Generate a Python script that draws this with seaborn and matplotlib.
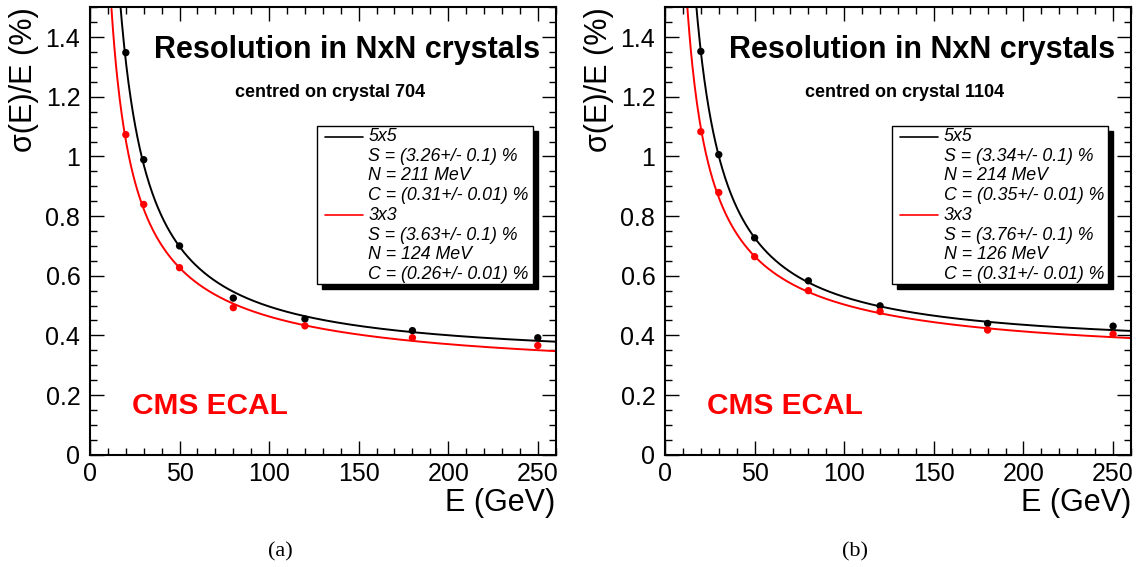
import numpy as np
import pandas as pd
import matplotlib
matplotlib.use("Agg")
import matplotlib.pyplot as plt
import seaborn as sns
from matplotlib.patches import Rectangle
from matplotlib.lines import Line2D
from matplotlib.ticker import MultipleLocator, FormatStrFormatter

# ---------------- data ----------------
energies = [20, 30, 50, 80, 120, 180, 250]          # GeV
sizes = ["5x5", "3x3"]

res_5x5_a = [1.348, 0.989, 0.700, 0.525, 0.455, 0.416, 0.392]
res_3x3_a = [1.073, 0.839, 0.627, 0.493, 0.432, 0.392, 0.366]
res_5x5_b = [1.352, 1.006, 0.727, 0.583, 0.499, 0.440, 0.431]
res_3x3_b = [1.083, 0.879, 0.664, 0.550, 0.480, 0.418, 0.404]

# fit parameters (stochastic %, noise MeV, constant %)
S_a = [3.26, 3.63]
N_a = [211, 124]
C_a = [0.31, 0.26]
S_b = [3.34, 3.76]
N_b = [214, 126]
C_b = [0.35, 0.31]
S_err = ["0.1", "0.1"]
C_err = ["0.01", "0.01"]
fit_range = [12, 260]

crystals = ["704", "1104"]
captions = ["(a)", "(b)"]

# ---------------- style ----------------
sns.set_style("ticks")
plt.rcParams["font.family"] = ["Liberation Sans", "DejaVu Sans"]
plt.rcParams["axes.linewidth"] = 1.5
for key in ["text.color", "axes.labelcolor", "xtick.color", "ytick.color",
            "axes.edgecolor", "xtick.labelcolor", "ytick.labelcolor"]:
    plt.rcParams[key] = "black"

palette = {"5x5": "black", "3x3": "red"}

fig = plt.figure(figsize=(11.42, 5.67), dpi=100)
W, H = 1142, 567
ax_a = fig.add_axes([90 / W, 1 - 454.7 / H, 465.7 / W, 447.4 / H])
ax_b = fig.add_axes([665 / W, 1 - 454.7 / H, 466 / W, 447.4 / H])


def fit_curve(E, S, N, C):
    return np.sqrt((S / np.sqrt(E)) ** 2 + (N / 10.0 / E) ** 2 + C ** 2)


def draw(ax, r5, r3, S, N, C, crystal, caption, cap_x):
    pts = pd.DataFrame({
        "E": energies * 2,
        "res": r5 + r3,
        "size": ["5x5"] * len(energies) + ["3x3"] * len(energies),
    })
    Egrid = np.linspace(fit_range[0], fit_range[1], 600)
    rows = []
    for i, sz in enumerate(sizes):
        rows.append(pd.DataFrame({"E": Egrid,
                                  "res": fit_curve(Egrid, S[i], N[i], C[i]),
                                  "size": sz}))
    fit = pd.concat(rows, ignore_index=True)

    sns.lineplot(data=fit, x="E", y="res", hue="size", palette=palette,
                 estimator=None, sort=True, legend=False, lw=1.4, ax=ax, zorder=2)
    sns.scatterplot(data=pts, x="E", y="res", hue="size", palette=palette,
                    s=28, edgecolor="none", legend=False, ax=ax, zorder=3)

    ax.set_xlim(0, 260)
    ax.set_ylim(0, 1.5)
    ax.xaxis.set_major_locator(MultipleLocator(50))
    ax.xaxis.set_minor_locator(MultipleLocator(10))
    ax.yaxis.set_major_locator(MultipleLocator(0.2))
    ax.yaxis.set_minor_locator(MultipleLocator(0.05))
    ax.yaxis.set_major_formatter(FormatStrFormatter("%g"))
    ax.tick_params(which="both", direction="in", top=True, right=True,
                   width=1.0, labelsize=18, color="black", labelcolor="black")
    ax.tick_params(which="major", length=10)
    ax.tick_params(which="minor", length=5)
    ax.tick_params(axis="x", pad=5)
    ax.tick_params(axis="y", pad=7)
    for sp in ax.spines.values():
        sp.set_visible(True)
        sp.set_linewidth(1.5)
        sp.set_color("black")

    ax.set_xlabel("E (GeV)", fontsize=22, loc="right", color="black")
    ax.xaxis.set_label_coords(1.0, -0.108)
    ax.xaxis.label.set_va("center")
    ax.set_ylabel("σ(E)/E (%)", fontsize=22, loc="top", color="black")
    ax.yaxis.set_label_coords(-0.1417, 1.0)
    ax.yaxis.label.set_va("center")

    ax.text(1 - 16 / 466, 0.905, "Resolution in NxN crystals", transform=ax.transAxes,
            ha="right", va="center", fontsize=22, fontweight="bold", color="black")
    ax.text(0.515, 0.81, "centred on crystal " + crystal, transform=ax.transAxes,
            ha="center", va="center", fontsize=13, fontweight="bold", color="black")
    ax.text(0.09, 0.109, "CMS ECAL", transform=ax.transAxes, ha="left", va="center",
            fontsize=21.5, fontweight="bold", color="red")

    # legend box with ROOT-style black shadow
    x0, x1, y0, y1 = 0.488, 0.951, 0.381, 0.735
    dx, dy = 5 / 466, 5 / 447
    ax.add_patch(Rectangle((x0 + dx, y0 - dy), x1 - x0, y1 - y0, transform=ax.transAxes,
                           facecolor="black", edgecolor="black", zorder=5, clip_on=False))
    ax.add_patch(Rectangle((x0, y0), x1 - x0, y1 - y0, transform=ax.transAxes,
                           facecolor="white", edgecolor="black", lw=1.0, zorder=6,
                           clip_on=False))
    row0, step = 0.711, 0.04403
    lines = []
    for i, sz in enumerate(sizes):
        lines.append((sz, palette[sz]))
        lines.append((f"S = ({S[i]:.2f}+/- {S_err[i]}) %", None))
        lines.append((f"N = {N[i]} MeV", None))
        lines.append((f"C = ({C[i]:.2f}+/- {C_err[i]}) %", None))
    for k, (txt, col) in enumerate(lines):
        y = row0 - k * step
        if col is not None:
            ax.add_line(Line2D([0.504, 0.586], [y, y], transform=ax.transAxes,
                               color=col, lw=1.2, zorder=7))
        ax.text(0.598, y, txt, transform=ax.transAxes, ha="left", va="center",
                fontsize=12.8, style="italic", zorder=7, color="black")

    fig.text(cap_x / W, 1 - 552 / H, caption, ha="center", va="center",
             fontsize=16, color="black", family=["Liberation Serif", "DejaVu Serif"])


draw(ax_a, res_5x5_a, res_3x3_a, S_a, N_a, C_a, crystals[0], captions[0], 280)
draw(ax_b, res_5x5_b, res_3x3_b, S_b, N_b, C_b, crystals[1], captions[1], 855)

fig.savefig("out.png", dpi=100)
